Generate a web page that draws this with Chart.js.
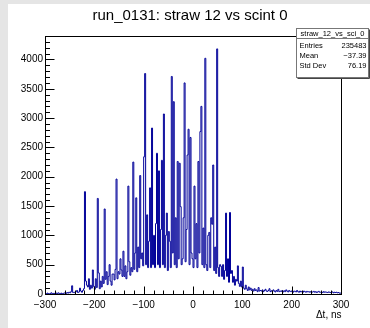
<!DOCTYPE html>
<html>
<head>
<meta charset="utf-8">
<script src="https://cdn.jsdelivr.net/npm/chart.js@4.4.1/dist/chart.umd.min.js"></script>
<style>
  html, body { margin: 0; padding: 0; background: #e5e5e5; }
  #wrap { position: absolute; left: 8px; top: 4px; width: 362px; height: 324px; background: #fff; }
  canvas { display: block; }
</style>
</head>
<body>
<div id="wrap"><canvas id="myChart" width="362" height="324" style="width:362px;height:324px"></canvas></div>
<script>
// histogram: 2 ns bins from -300 to 300 ns
const xMin = -300;
const binWidth = 2;

// -300 .. -220 ns
const countsLeft = [
    5, 10, 0, 15, 5, 0, 10, 20, 5, 10,
    10, 0, 15, 5, 20, 10, 5, 15, 0, 10,
    15, 20, 10, 25, 15, 30, 20, 40, 140, 25,
    30, 20, 40, 60, 25, 35, 100, 50, 30, 60
];
// -220 .. 100 ns
const countsCore = [
    90, 1745, 220, 150, 120, 260, 80, 150, 100, 410,
    130, 80, 260, 110, 1630, 360, 90, 220, 120, 300,
    180, 1450, 250, 380, 160, 300, 500, 220, 150, 340,
    340, 240, 420, 1960, 260, 380, 340, 600, 410, 300,
    730, 300, 480, 260, 380, 1840, 550, 320, 450, 380,
    2250, 420, 700, 1640, 380, 800, 450, 2020, 600, 700,
    480, 2340, 3760, 500, 1350, 450, 900, 1810, 450, 2830,
    500, 1000, 450, 1200, 2400, 500, 2100, 450, 1100, 2280,
    500, 3070, 450, 1000, 1380, 400, 1065, 900, 450, 3710,
    700, 3280, 500, 1300, 450, 2260, 600, 2230, 1490, 500,
    600, 1300, 3600, 550, 1100, 2370, 2810, 500, 2670, 700,
    600, 450, 1840, 600, 1200, 450, 2260, 700, 2770, 3200,
    500, 1125, 450, 4020, 500, 400, 1000, 1050, 450, 1300,
    1190, 2200, 400, 800, 350, 4180, 450, 300, 500, 470,
    300, 500, 250, 400, 1380, 300, 600, 200, 1390, 350,
    400, 200, 300, 150, 250, 220, 480, 180, 130, 220
];
// 100 .. 300 ns
const countsTail = [
    120, 460, 100, 80, 150, 90, 60, 120, 70, 100,
    60, 80, 50, 90, 60, 70, 40, 110, 50, 60,
    50, 70, 40, 60, 80, 50, 45, 60, 90, 40,
    55, 40, 70, 50, 35, 60, 45, 80, 40, 50,
    45, 60, 35, 55, 40, 70, 50, 35, 60, 45,
    40, 55, 30, 50, 45, 35, 60, 40, 30, 50,
    35, 45, 30, 50, 40, 30, 45, 35, 40, 30,
    40, 30, 35, 45, 30, 40, 25, 35, 45, 30,
    30, 35, 25, 40, 30, 35, 30, 25, 35, 30,
    25, 30, 35, 20, 30, 25, 30, 20, 25, 15
];

const xTicks = [-300, -200, -100, 0, 100, 200, 300];
const yTicks = [0, 500, 1000, 1500, 2000, 2500, 3000, 3500, 4000];
const yMax = 4400;

const titleText = 'run_0131: straw 12 vs scint 0';
const xTitle = '\u0394t, ns';
const statsName = 'straw_12_vs_sci_0';
const statsRows = [['Entries', '235483'], ['Mean', '\u221237.39'], ['Std Dev', '76.19']];

const counts = countsLeft.concat(countsCore, countsTail);
const points = counts.map((c, i) => ({ x: xMin + i * binWidth, y: c }));
points.push({ x: xMin + counts.length * binWidth, y: counts[counts.length - 1] });

const FONT = '"Liberation Sans", Arial, Helvetica, sans-serif';

const rootFrame = {
    id: 'rootFrame',
    afterDraw(chart) {
        const { ctx, chartArea: a, scales: { x, y } } = chart;
        ctx.save();
        const L = Math.round(a.left) + 0.5, R = Math.round(a.right) + 0.5;
        const T = Math.round(a.top) + 0.5, B = Math.round(a.bottom) + 0.5;
        ctx.strokeStyle = '#000';
        ctx.lineWidth = 1;
        ctx.strokeRect(L, T, R - L, B - T);

        // ticks inside the frame
        ctx.beginPath();
        for (let v = 0; v <= yMax; v += 100) {
            const py = Math.round(y.getPixelForValue(v)) + 0.5;
            const len = v % 500 === 0 ? 9 : 4.5;
            ctx.moveTo(L, py); ctx.lineTo(L + len, py);
        }
        for (let v = -300; v <= 300; v += 20) {
            const px = Math.round(x.getPixelForValue(v)) + 0.5;
            const len = v % 100 === 0 ? 8 : 4;
            ctx.moveTo(px, B); ctx.lineTo(px, B - len);
        }
        ctx.stroke();

        // title
        ctx.fillStyle = '#000';
        ctx.font = '15px ' + FONT;
        ctx.textAlign = 'center';
        ctx.textBaseline = 'middle';
        ctx.fillText(titleText, 182, 12);

        // x axis title
        ctx.font = '10px ' + FONT;
        ctx.textAlign = 'right';
        ctx.fillText(xTitle, R, 311);

        // stats box
        const bx = 288.5, by = 24.5, bw = 72, bh = 49;
        ctx.fillStyle = '#fff';
        ctx.fillRect(bx, by, bw, bh);
        ctx.strokeStyle = '#777';
        ctx.strokeRect(bx, by, bw, bh);
        ctx.beginPath();
        ctx.moveTo(bx, by + 10); ctx.lineTo(bx + bw, by + 10);
        ctx.stroke();
        ctx.strokeStyle = '#444';
        ctx.beginPath();
        ctx.moveTo(bx + 1, by + bh + 1); ctx.lineTo(bx + bw + 1, by + bh + 1); ctx.lineTo(bx + bw + 1, by + 1);
        ctx.stroke();
        ctx.fillStyle = '#000';
        ctx.font = '7.5px ' + FONT;
        ctx.textAlign = 'center';
        ctx.fillText(statsName, bx + bw / 2, by + 5.5);
        statsRows.forEach((r, i) => {
            const ty = by + 17 + i * 10;
            ctx.textAlign = 'left';
            ctx.fillText(r[0], bx + 3, ty);
            ctx.textAlign = 'right';
            ctx.fillText(r[1], bx + bw - 2, ty);
        });
        ctx.restore();
    }
};

const config = {
    type: 'line',
    data: {
        datasets: [{
            data: points,
            borderColor: '#000099',
            borderWidth: 1,
            stepped: 'after',
            pointRadius: 0,
            fill: false,
            tension: 0
        }]
    },
    options: {
        responsive: false,
        animation: false,
        events: [],
        layout: { padding: { top: 32, right: 29, left: 0, bottom: 0 } },
        plugins: { legend: { display: false }, tooltip: { enabled: false }, title: { display: false } },
        scales: {
            x: {
                type: 'linear',
                min: -300,
                max: 300,
                afterBuildTicks: s => { s.ticks = xTicks.map(v => ({ value: v })); },
                afterFit: s => { s.height = 34; },
                grid: { display: false, drawTicks: false },
                border: { display: false },
                ticks: {
                    color: '#000',
                    font: { family: FONT, size: 10 },
                    padding: 5,
                    maxRotation: 0,
                    autoSkip: false,
                    callback: v => v < 0 ? '\u2212' + Math.abs(v) : String(v)
                }
            },
            y: {
                type: 'linear',
                min: 0,
                max: yMax,
                afterBuildTicks: s => { s.ticks = yTicks.map(v => ({ value: v })); },
                afterFit: s => { s.width = 37; },
                grid: { display: false, drawTicks: false },
                border: { display: false },
                ticks: {
                    color: '#000',
                    font: { family: FONT, size: 10 },
                    padding: 2,
                    autoSkip: false,
                    callback: v => String(v)
                }
            }
        }
    },
    plugins: [rootFrame]
};

const ctx = document.getElementById('myChart').getContext('2d');
new Chart(ctx, config);
</script>
</body>
</html>
